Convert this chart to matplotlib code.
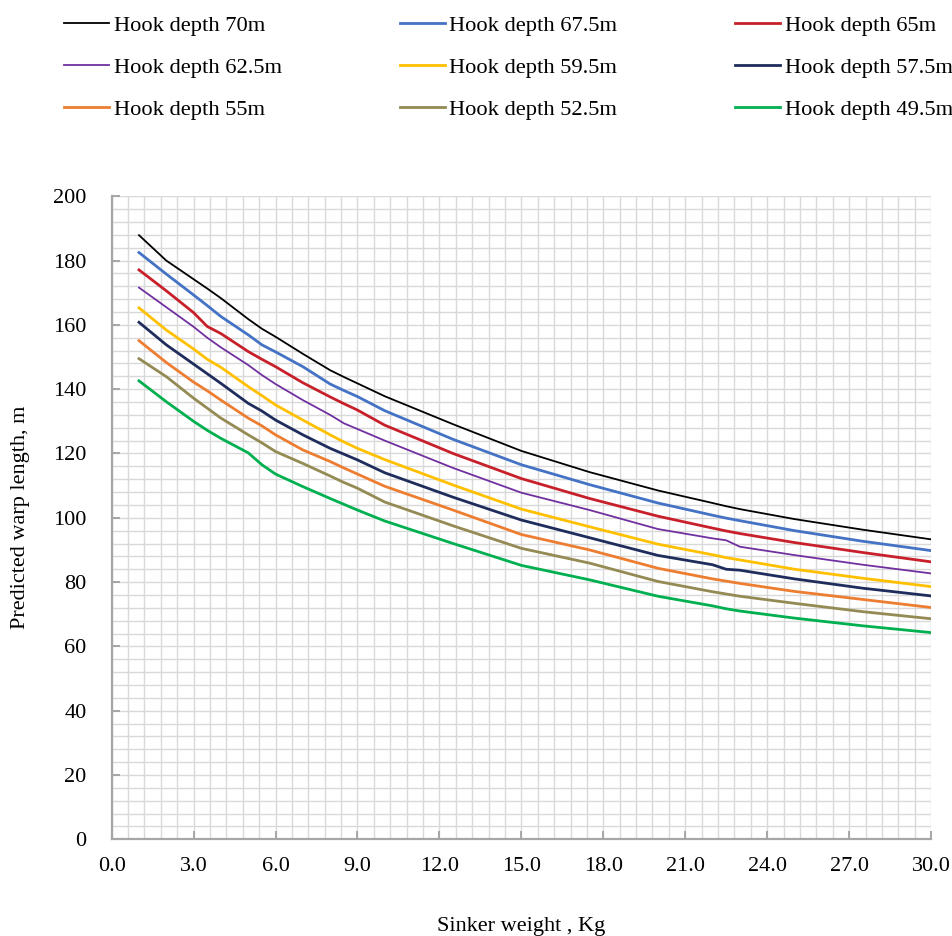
import numpy as np
import matplotlib
matplotlib.use("Agg")
import matplotlib.pyplot as plt
from matplotlib.ticker import MultipleLocator, FixedLocator, FormatStrFormatter

plt.rcParams['font.family'] = ['Liberation Serif', 'DejaVu Serif']

# sinker weight (kg)
sinker = [1, 2, 3, 3.5, 4, 5, 5.5, 6, 7, 8, 8.5, 9, 10, 12.5, 15, 17.5,
          20, 22, 22.5, 23, 25, 27.5, 30]

# predicted warp length (m) for each hook depth
warp_70 = [187.9, 180.0, 174.2, 171.3, 168.3, 161.8, 158.8, 156.3, 151.0, 145.9,
           143.8, 141.8, 137.8, 129.1, 120.8, 114.2, 108.5, 104.6, 103.6, 102.7,
           99.6, 96.3, 93.3]
warp_675 = [182.5, 175.8, 169.3, 166.0, 162.6, 156.9, 153.8, 151.6, 147.0, 141.6,
            139.6, 137.7, 133.3, 124.4, 116.5, 110.3, 104.6, 100.8, 99.9, 99.1,
            96.0, 92.7, 89.8]
warp_65 = [177.1, 170.6, 163.8, 159.5, 157.3, 151.7, 149.3, 147.0, 142.0, 137.6,
           135.5, 133.5, 128.8, 120.0, 112.2, 106.0, 100.5, 96.8, 95.9, 95.1,
           92.3, 89.2, 86.3]
warp_625 = [171.6, 165.5, 159.4, 156.0, 153.0, 147.5, 144.4, 141.6, 136.6, 132.0,
            129.4, 127.6, 124.0, 115.5, 107.8, 102.4, 96.5, 93.6, 93.0, 91.0,
            88.4, 85.4, 82.7]
warp_595 = [165.3, 158.4, 152.5, 149.3, 146.8, 140.8, 138.0, 135.1, 130.4, 125.8,
            123.6, 121.6, 118.1, 110.2, 102.7, 97.2, 91.8, 88.5, 87.6, 86.9,
            84.0, 81.2, 78.6]
warp_575 = [160.8, 153.8, 147.8, 144.8, 141.8, 135.6, 133.2, 130.4, 125.8, 121.6,
            119.8, 118.0, 114.0, 106.4, 99.3, 93.8, 88.3, 85.4, 84.0, 83.7,
            81.0, 78.1, 75.7]
warp_55 = [155.1, 148.3, 142.2, 139.5, 136.6, 131.0, 128.6, 125.8, 121.1, 117.5,
           115.5, 113.6, 109.8, 102.4, 94.8, 90.0, 84.3, 81.0, 80.3, 79.6,
           77.1, 74.6, 72.1]
warp_525 = [149.5, 143.9, 137.2, 134.1, 131.0, 125.8, 123.3, 120.6, 116.9, 113.0,
            111.0, 109.2, 104.9, 97.5, 90.5, 85.9, 80.2, 77.0, 76.3, 75.6,
            73.4, 70.8, 68.6]
warp_495 = [142.6, 136.1, 130.0, 127.2, 124.7, 120.2, 116.5, 113.6, 109.7, 106.0,
            104.2, 102.4, 99.0, 92.0, 85.2, 80.7, 75.6, 72.6, 71.7, 71.0,
            68.8, 66.4, 64.3]

series = [
    ("Hook depth 70m", warp_70, "#000000", 1.3),
    ("Hook depth 67.5m", warp_675, "#4472C4", 2.0),
    ("Hook depth 65m", warp_65, "#C8202A", 2.0),
    ("Hook depth 62.5m", warp_625, "#7030A0", 1.3),
    ("Hook depth 59.5m", warp_595, "#FFC000", 2.0),
    ("Hook depth 57.5m", warp_575, "#1F2D5C", 2.0),
    ("Hook depth 55m", warp_55, "#ED7D31", 2.0),
    ("Hook depth 52.5m", warp_525, "#948A54", 2.0),
    ("Hook depth 49.5m", warp_495, "#00B050", 2.0),
]

fig = plt.figure(figsize=(9.52, 9.36), dpi=100)
ax = fig.add_axes([0.1173, 0.1033, 0.8607, 0.687])

lines = []
for label, vals, col, lw in series:
    ln, = ax.plot(sinker, vals, color=col, lw=lw, label=label,
                  solid_joinstyle='round', zorder=3)
    lines.append(ln)

ax.set_xlim(0, 30)
ax.set_ylim(0, 200)

# major ticks every 3 kg / 20 m, fine grid every 0.6 kg / 4 m
ax.xaxis.set_major_locator(MultipleLocator(3))
ax.xaxis.set_major_formatter(FormatStrFormatter('%.1f'))
ax.xaxis.set_minor_locator(FixedLocator(np.round(np.arange(0, 30.01, 0.6), 2)))
ax.yaxis.set_major_locator(MultipleLocator(20))
ax.yaxis.set_minor_locator(MultipleLocator(4))

ax.grid(True, which='both', color='#D9D9D9', lw=1.0, zorder=0)
ax.set_axisbelow(True)

for s in ['top', 'right']:
    ax.spines[s].set_visible(False)
for s in ['left', 'bottom']:
    ax.spines[s].set_color('#A6A6A6')
    ax.spines[s].set_linewidth(1.6)

ax.tick_params(which='major', direction='in', length=6, width=1.4,
               color='#A6A6A6', labelsize=16, labelcolor='black')
ax.tick_params(axis='x', which='major', pad=13)
ax.tick_params(axis='y', which='major', pad=18)
ax.tick_params(which='minor', length=0)

ax.set_xlabel("Sinker weight , Kg", fontsize=16, labelpad=29)
ax.set_ylabel("Predicted warp length, m", fontsize=16, labelpad=17)

# legend rows: 70/67.5/65, 62.5/59.5/57.5, 55/52.5/49.5
order = [0, 3, 6, 1, 4, 7, 2, 5, 8]
fig.legend([lines[i] for i in order], [series[i][0] for i in order],
           ncol=3, loc='upper left', bbox_to_anchor=(0.058, 0.993),
           frameon=False, fontsize=16.2, handlelength=2.0, handletextpad=0.2,
           columnspacing=5.25, labelspacing=0.94, borderaxespad=0)

fig.savefig("out.png", dpi=100)
